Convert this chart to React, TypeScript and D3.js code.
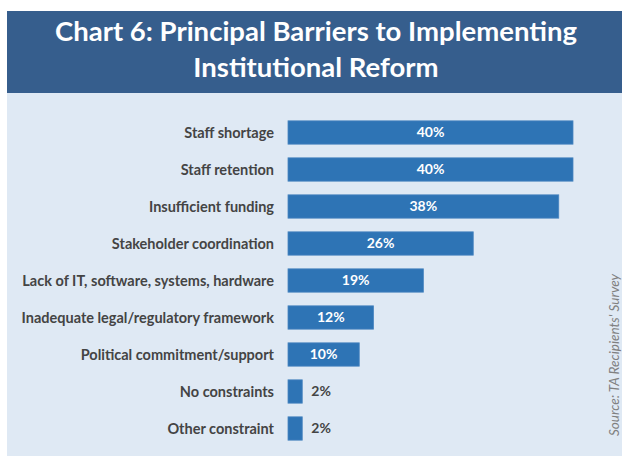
import React from 'react';
import * as d3 from 'd3';

const categories = [
  'Staff shortage',
  'Staff retention',
  'Insufficient funding',
  'Stakeholder coordination',
  'Lack of IT, software, systems, hardware',
  'Inadequate legal/regulatory framework',
  'Political commitment/support',
  'No constraints',
  'Other constraint',
];
const values = [40, 40, 38, 26, 19, 12, 10, 2, 2];
const titleLines = ['Chart 6: Principal Barriers to Implementing', 'Institutional Reform'];
const source = "Source: TA Recipients' Survey";

const W = 622;
const H = 458;
const font = 'Lato, "Open Sans", sans-serif';

const App = () => {
  const x = d3.scaleLinear().domain([0, 40]).range([288, 573]);
  const y = d3.scaleBand<string>()
    .domain(categories)
    .range([114, 447])
    .paddingInner(0.37)
    .paddingOuter(0.185);

  return (
    <svg width={W} height={H} style={{ display: 'block', position: 'absolute', left: 0, top: 0 }}>
      <rect x={0} y={0} width={W} height={H} fill="#fff" />
      <rect x={7} y={11} width={W - 7} height={82} fill="#365e8d" />
      {titleLines.map((t, i) => (
        <text key={i} x={316} y={41 + i * 36} textAnchor="middle" fill="#fff"
          fontFamily={font} fontWeight={700} fontSize={27.5}>{t}</text>
      ))}
      <rect x={7} y={93} width={W - 7} height={363} fill="#dfe9f4" />

      {categories.map((c, i) => {
        const v = values[i];
        const by = y(c) as number;
        const bw = x(v) - x(0);
        const cy = by + y.bandwidth() / 2;
        const inside = v >= 5;
        return (
          <g key={c}>
            <text x={274} y={cy} dy="0.35em" textAnchor="end" fill="#444"
              fontFamily={font} fontWeight={700} fontSize={14.5}>{c}</text>
            <rect x={x(0)} y={by} width={bw} height={y.bandwidth()} fill="#2e74b5"
              stroke="#4a86c0" strokeWidth={0.8} />
            <text x={inside ? x(0) + bw / 2 : x(v) + 9} y={cy} dy="0.35em"
              textAnchor={inside ? 'middle' : 'start'} fill={inside ? '#fff' : '#444'}
              fontFamily={font} fontWeight={700} fontSize={14}>{v}%</text>
          </g>
        );
      })}

      <text transform={`translate(619,355) rotate(-90)`} textAnchor="middle" fill="#808080"
        fontFamily={font} fontStyle="italic" fontSize={13.5}>{source}</text>
    </svg>
  );
};

export default App;
